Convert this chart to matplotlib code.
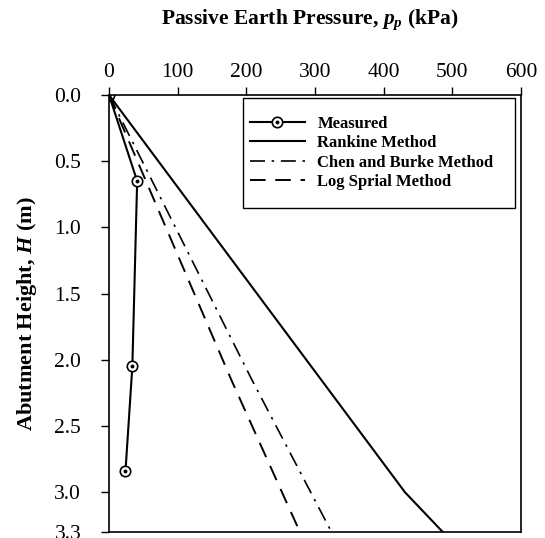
import matplotlib
matplotlib.use("Agg")
import matplotlib.pyplot as plt
from matplotlib.patches import Rectangle

plt.rcParams['font.family'] = ['Liberation Serif', 'DejaVu Serif']
plt.rcParams['mathtext.fontset'] = 'custom'
plt.rcParams['mathtext.it'] = 'Liberation Serif:italic:bold'
plt.rcParams['mathtext.rm'] = 'Liberation Serif:bold'

# measured values
meas_p = [0, 41, 34, 24]
meas_h = [0.0, 0.65, 2.05, 2.84]

# Rankine method
rank_p = [0, 431, 486]
rank_h = [0.0, 3.0, 3.3]

# Chen and Burke method
chen_p = [0, 208, 324]
chen_h = [0.0, 2.15, 3.3]

# Log spiral method
log_p = [0, 178, 278]
log_h = [0.0, 2.15, 3.3]

fig = plt.figure(figsize=(5.45, 5.38), dpi=100)
# axes box: x 109..521 px, y 95..532 px
ax = fig.add_axes([0.2, 0.0112, 0.756, 0.8123])

l1, = ax.plot(meas_p, meas_h, color='black', lw=1.5, marker='o', ms=7.5,
              mfc='white', mec='black', mew=1.2)
d1, = ax.plot(meas_p, meas_h, ls='none', marker='o', ms=1.8, color='black')
l2, = ax.plot(rank_p, rank_h, color='black', lw=1.5)
l3, = ax.plot(chen_p, chen_h, color='black', lw=1.2, dashes=(9, 4, 1.5, 4))
l4, = ax.plot(log_p, log_h, color='black', lw=1.4, dashes=(8, 5))

ax.set_xlim(0, 600)
ax.set_ylim(3.3, 0.0)
ax.set_xticks([0, 100, 200, 300, 400, 500, 600])
ax.set_yticks([0.0, 0.5, 1.0, 1.5, 2.0, 2.5, 3.0, 3.3])
ax.set_yticklabels(['0.0', '0.5', '1.0', '1.5', '2.0', '2.5', '3.0', '3.3'])
ax.xaxis.tick_top()
ax.xaxis.set_label_position('top')
ax.tick_params(axis='both', direction='out', length=6, width=1, labelsize=15.5)
ax.tick_params(axis='x', pad=3)
ax.tick_params(axis='y', pad=14)
for s in ax.spines.values():
    s.set_linewidth(1.2)

ax.set_xlabel(r'Passive Earth Pressure, $p_p$ (kPa)', fontsize=15.5, fontweight='bold')
ax.xaxis.set_label_coords(0.488, 1.172)
ax.xaxis.label.set_verticalalignment('center')
ax.set_ylabel(r'Abutment Height, $H$ (m)', fontsize=16, fontweight='bold', labelpad=11)

# legend box drawn by hand so the vertical padding can match
ax.add_patch(Rectangle((0.325, 0.741), 0.66, 0.252, transform=ax.transAxes,
                       facecolor='white', edgecolor='black', lw=1.0, zorder=4))
leg = ax.legend([(l1, d1), l2, l3, l4],
                ['Measured', 'Rankine Method', 'Chen and Burke Method', 'Log Sprial Method'],
                loc='upper left', bbox_to_anchor=(0.342, 0.952), frameon=False,
                borderpad=0, borderaxespad=0, handlelength=3.3, handletextpad=0.75,
                prop={'weight': 'bold', 'size': 12}, labelspacing=0.2)
leg.set_zorder(5)

fig.savefig('out.png', dpi=100)
